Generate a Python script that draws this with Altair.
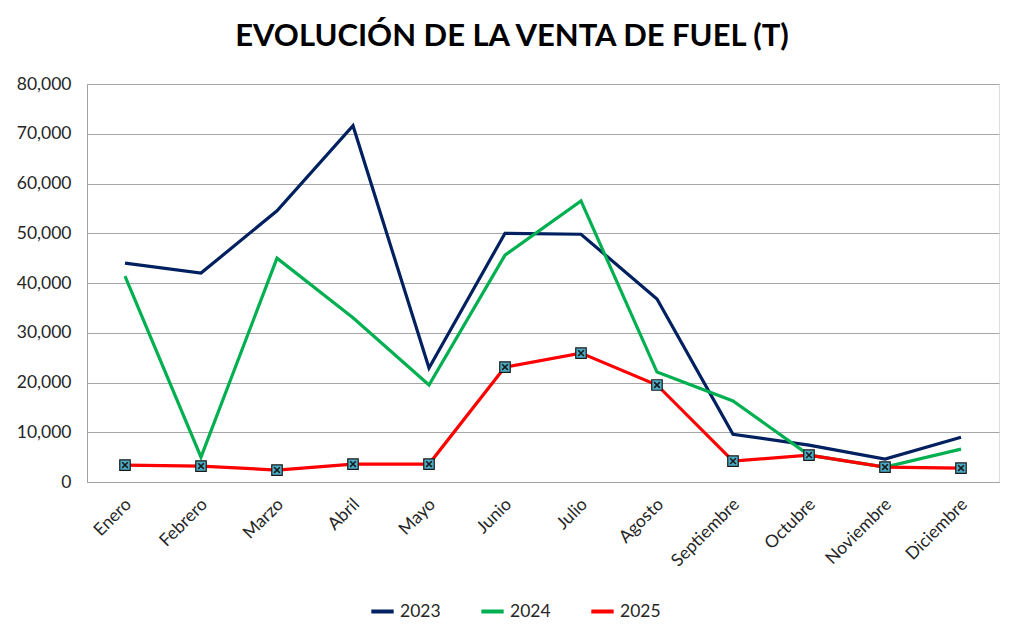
import altair as alt
import pandas as pd

months = ["Enero", "Febrero", "Marzo", "Abril", "Mayo", "Junio", "Julio",
          "Agosto", "Septiembre", "Octubre", "Noviembre", "Diciembre"]
v2023 = [44000, 42000, 54500, 71600, 22900, 50000, 49800, 36800, 9600, 7400, 4600, 9000]
v2024 = [41400, 5000, 45000, 33000, 19500, 45600, 56500, 22100, 16300, 5400, 3000, 6600]
v2025 = [3400, 3200, 2400, 3600, 3600, 23100, 25900, 19500, 4200, 5400, 3000, 2800]
years = ["2023", "2024", "2025"]
colors = ["#002060", "#00B050", "#FF0000"]

rows = []
for y, vals in zip(years, [v2023, v2024, v2025]):
    for m, v in zip(months, vals):
        rows.append({"Mes": m, "Año": y, "Venta": v})
df = pd.DataFrame(rows)

FONT = "Lato"

x = alt.X("Mes:N", sort=months, title=None,
          scale=alt.Scale(paddingInner=0, paddingOuter=0.5),
          axis=alt.Axis(labelAngle=-45, labelFontSize=17.5, labelColor="#262626",
                        labelFont=FONT, ticks=False,
                        domainColor="#a0a0a0", grid=False, labelPadding=13,
                        labelOffset=-3))
y = alt.Y("Venta:Q", title=None,
          scale=alt.Scale(domain=[0, 80000]),
          axis=alt.Axis(values=list(range(0, 80001, 10000)), format=",d",
                        labelFontSize=17.5, labelColor="#262626", labelFont=FONT,
                        ticks=False, labelPadding=16, domainColor="#a0a0a0",
                        gridColor="#a6a6a6", gridWidth=1))
color = alt.Color("Año:N", scale=alt.Scale(domain=years, range=colors),
                  legend=alt.Legend(title=None, orient="none", direction="horizontal",
                                    legendX=282, legendY=514, symbolType="stroke",
                                    symbolStrokeWidth=4, symbolSize=500,
                                    labelFontSize=17.5, labelFont=FONT,
                                    labelColor="#262626", columnPadding=32,
                                    labelOffset=4))

lines = alt.Chart(df).mark_line(strokeWidth=3.2).encode(x=x, y=y, color=color)

pts = alt.Chart(df[df["Año"] == "2025"]).mark_point(
    shape="square", filled=True, fill="#4BACC6", stroke="#1a1a1a",
    strokeWidth=1.2, size=110, opacity=1).encode(x=x, y=y)
xs = alt.Chart(df[df["Año"] == "2025"]).mark_point(
    shape="M-0.6,-0.6L0.6,0.6M0.6,-0.6L-0.6,0.6", stroke="#1a1a1a",
    strokeWidth=1.6, size=90, opacity=1).encode(x=x, y=y)

chart = alt.layer(lines, pts, xs).properties(
    width=912, height=398,
    autosize=alt.AutoSizeParams(type="none"),
    padding={"left": 79, "top": 76, "right": 16, "bottom": 140},
    title=alt.Title("EVOLUCIÓN DE LA VENTA DE FUEL (T)", fontSize=31,
                    font=FONT, fontWeight="bold", color="#000000",
                    anchor="middle", dx=-31, offset=22),
).configure_view(stroke=None).configure(background="white")

chart.save("out.html", embed_options={"renderer": "svg", "actions": False})
